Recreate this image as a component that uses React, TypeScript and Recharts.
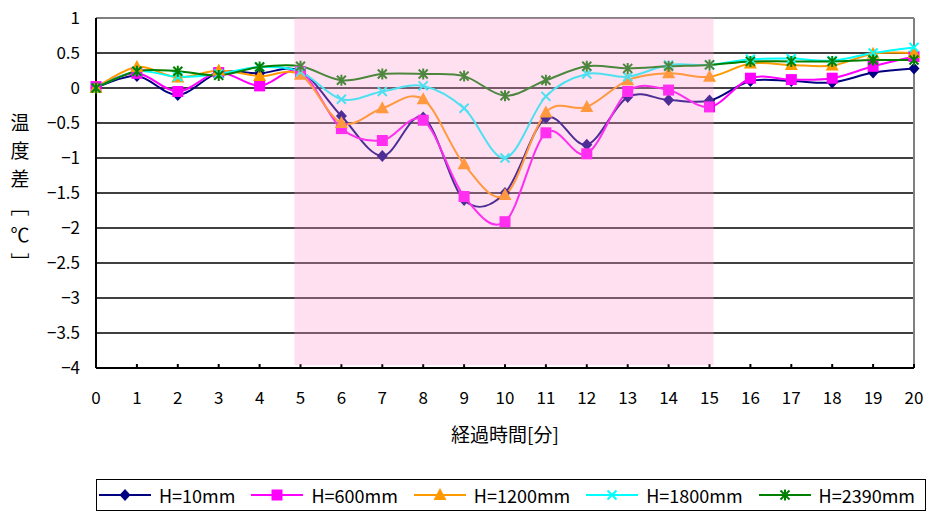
import React from "react";
import { CartesianGrid, Line, LineChart, ReferenceArea, ReferenceLine, XAxis, YAxis } from "recharts";

const time = [0, 1, 2, 3, 4, 5, 6, 7, 8, 9, 10, 11, 12, 13, 14, 15, 16, 17, 18, 19, 20];
const h10 = [0, 0.17, -0.1, 0.22, 0.21, 0.24, -0.4, -0.97, -0.42, -1.6, -1.5, -0.43, -0.81, -0.13, -0.17, -0.18, 0.1, 0.1, 0.08, 0.22, 0.28];
const h600 = [0.02, 0.21, -0.05, 0.22, 0.03, 0.23, -0.58, -0.75, -0.46, -1.55, -1.91, -0.64, -0.94, -0.05, -0.03, -0.27, 0.14, 0.12, 0.14, 0.31, 0.45];
const h1200 = [0, 0.3, 0.15, 0.25, 0.17, 0.19, -0.5, -0.29, -0.16, -1.09, -1.53, -0.35, -0.27, 0.11, 0.21, 0.16, 0.35, 0.33, 0.32, 0.49, 0.5];
const h1800 = [0, 0.24, 0.16, 0.2, 0.3, 0.23, -0.16, -0.05, 0.03, -0.29, -1.0, -0.12, 0.2, 0.16, 0.33, 0.33, 0.41, 0.42, 0.39, 0.5, 0.58];
const h2390 = [0, 0.24, 0.24, 0.18, 0.3, 0.31, 0.11, 0.2, 0.2, 0.17, -0.11, 0.11, 0.31, 0.28, 0.31, 0.33, 0.38, 0.38, 0.38, 0.4, 0.4];

const yTicks = [1, 0.5, 0, -0.5, -1, -1.5, -2, -2.5, -3, -3.5, -4];
const seriesNames = ["H=10mm", "H=600mm", "H=1200mm", "H=1800mm", "H=2390mm"];
const shadeFrom = 4.85;
const shadeTo = 15.1;

const FONT = "'Noto Sans CJK JP', sans-serif";

const data = time.map((t, i) => ({
  t,
  h10: h10[i],
  h600: h600[i],
  h1200: h1200[i],
  h1800: h1800[i],
  h2390: h2390[i],
}));

// Excel-like smoothing (cardinal spline, tension 0)
function Smooth(this: any, context: any) {
  this._context = context;
  this._k = 1 / 6;
}
function segment(that: any, x: number, y: number) {
  that._context.bezierCurveTo(
    that._x1 + that._k * (that._x2 - that._x0),
    that._y1 + that._k * (that._y2 - that._y0),
    that._x2 + that._k * (that._x1 - x),
    that._y2 + that._k * (that._y1 - y),
    that._x2,
    that._y2
  );
}
Smooth.prototype = {
  areaStart() {
    this._line = 0;
  },
  areaEnd() {
    this._line = NaN;
  },
  lineStart() {
    this._x0 = this._x1 = this._x2 = this._y0 = this._y1 = this._y2 = NaN;
    this._point = 0;
  },
  lineEnd() {
    switch (this._point) {
      case 2:
        this._context.lineTo(this._x2, this._y2);
        break;
      case 3:
        segment(this, this._x1, this._y1);
        break;
    }
    if (this._line || (this._line !== 0 && this._point === 1)) this._context.closePath();
    this._line = 1 - this._line;
  },
  point(x: number, y: number) {
    x = +x;
    y = +y;
    switch (this._point) {
      case 0:
        this._point = 1;
        this._line ? this._context.lineTo(x, y) : this._context.moveTo(x, y);
        break;
      case 1:
        this._point = 2;
        this._x1 = x;
        this._y1 = y;
        break;
      case 2:
        this._point = 3;
        segment(this, x, y);
        break;
      default:
        segment(this, x, y);
        break;
    }
    this._x0 = this._x1;
    this._x1 = this._x2;
    this._x2 = x;
    this._y0 = this._y1;
    this._y1 = this._y2;
    this._y2 = y;
  },
};
const smoothCurve: any = (context: any) => new (Smooth as any)(context);

type MarkerKind = "diamond" | "square" | "triangle" | "cross" | "star";

function Marker({ kind, cx, cy, color }: { kind: MarkerKind; cx: number; cy: number; color: string }) {
  if (kind === "diamond") {
    return <path d={`M${cx},${cy - 6}L${cx + 5.5},${cy}L${cx},${cy + 6}L${cx - 5.5},${cy}Z`} fill={color} />;
  }
  if (kind === "square") {
    return <rect x={cx - 5.5} y={cy - 5.5} width={11} height={11} fill={color} />;
  }
  if (kind === "triangle") {
    return <path d={`M${cx},${cy - 7}L${cx + 6.5},${cy + 5}L${cx - 6.5},${cy + 5}Z`} fill={color} />;
  }
  if (kind === "cross") {
    return (
      <path d={`M${cx - 4.5},${cy - 4.5}L${cx + 4.5},${cy + 4.5}M${cx - 4.5},${cy + 4.5}L${cx + 4.5},${cy - 4.5}`} stroke={color} strokeWidth={2} />
    );
  }
  return (
    <path
      d={`M${cx - 4.5},${cy - 4.5}L${cx + 4.5},${cy + 4.5}M${cx - 4.5},${cy + 4.5}L${cx + 4.5},${cy - 4.5}M${cx},${cy - 5.5}L${cx},${cy + 5.5}`}
      stroke={color}
      strokeWidth={2}
    />
  );
}

const series: { key: string; color: string; kind: MarkerKind }[] = [
  { key: "h10", color: "#000080", kind: "diamond" },
  { key: "h600", color: "#FF00FF", kind: "square" },
  { key: "h1200", color: "#FF9900", kind: "triangle" },
  { key: "h1800", color: "#00FFFF", kind: "cross" },
  { key: "h2390", color: "#008000", kind: "star" },
];

const fmtY = (v: number) => (v < 0 ? "\u2212" + String(Math.abs(v)) : String(v));

const yLabelChars = ["温", "度", "差", "\uFE47", "℃", "\uFE48"];

export default function App() {
  return (
    <div style={{ position: "absolute", left: 0, top: 0, width: 928, height: 511, background: "#fff", fontFamily: FONT }}>
      <LineChart width={928} height={470} data={data} margin={{ top: 18, right: 14, bottom: 22, left: 0 }}>
        <CartesianGrid vertical={false} stroke="#000" strokeWidth={1.5} strokeOpacity={1} />
        <XAxis
          dataKey="t"
          type="number"
          domain={[0, 20]}
          ticks={time}
          interval={0}
          height={80}
          stroke="#000"
          strokeWidth={2}
          tickSize={-4}
          tickMargin={28}
          tick={{ fill: "#000", fontSize: 17, fontFamily: FONT }}
          label={{ value: "経過時間[分]", position: "insideBottom", offset: 6, fill: "#000", fontSize: 19, fontFamily: FONT }}
        />
        <YAxis
          type="number"
          domain={[-4, 1]}
          ticks={yTicks}
          interval={0}
          width={96}
          stroke="#000"
          strokeWidth={2}
          tickLine={false}
          tickSize={0}
          tickMargin={16}
          tickFormatter={fmtY}
          tick={{ fill: "#000", fontSize: 17, fontFamily: FONT }}
        />
        <ReferenceLine y={1} stroke="#808080" strokeWidth={2} />
        <ReferenceLine x={20} stroke="#808080" strokeWidth={2} />
        {series.map((s) => (
          <Line
            key={s.key}
            dataKey={s.key}
            type={smoothCurve}
            stroke={s.color}
            strokeWidth={2}
            isAnimationActive={false}
            dot={(p: any) => <Marker key={`${s.key}-${p.index}`} kind={s.kind} cx={p.cx} cy={p.cy} color={s.color} />}
            activeDot={false}
          />
        ))}
        <ReferenceArea
          x1={shadeFrom}
          x2={shadeTo}
          y1={-3.96}
          y2={1}
          fill="#FF99CC"
          fillOpacity={0.3}
          stroke="none"
          zIndex={1000}
        />
      </LineChart>
      <div
        style={{
          position: "absolute",
          left: 10,
          top: 108,
          width: 20,
          display: "flex",
          flexDirection: "column",
          alignItems: "center",
          fontSize: 19,
          lineHeight: "28px",
          color: "#000",
        }}
      >
        {yLabelChars.map((c, i) => (
          <span key={i}>{c}</span>
        ))}
      </div>
      <div
        style={{
          position: "absolute",
          left: 96,
          top: 479,
          width: 830,
          height: 32,
          boxSizing: "border-box",
          border: "1px solid #000",
          display: "flex",
          alignItems: "center",
          justifyContent: "space-between",
          paddingLeft: 2,
          paddingRight: 10,
          fontSize: 18,
          color: "#000",
        }}
      >
        {series.map((s, i) => (
          <div key={s.key} style={{ display: "flex", alignItems: "center" }}>
            <svg width={52} height={20}>
              <line x1={0} y1={10} x2={52} y2={10} stroke={s.color} strokeWidth={2} />
              <Marker kind={s.kind} cx={26} cy={10} color={s.color} />
            </svg>
            <span style={{ marginLeft: 8 }}>{seriesNames[i]}</span>
          </div>
        ))}
      </div>
    </div>
  );
}
